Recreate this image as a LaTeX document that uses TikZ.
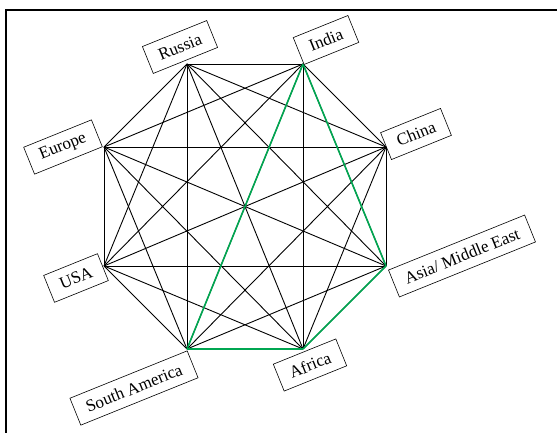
\documentclass[tikz,border=0pt]{standalone}
\usepackage{fontspec}
\setmainfont{Liberation Serif}
\usepackage{tikz}
\definecolor{route}{HTML}{00A651}

\begin{document}
\begin{tikzpicture}[
  x=1pt, y=-1pt,
  font=\fontsize{17}{20}\selectfont,
  cbox/.style={draw, line width=0.6pt, rotate=22, inner xsep=12pt, inner ysep=2pt, minimum height=29pt},
  link/.style={line width=0.9pt, black},
  greenlink/.style={line width=1.6pt, color=route}
]
  \useasboundingbox (0,0) rectangle (557,433);

  % frame (top and left only)
  \draw[line width=1.6pt] (6,433) -- (6,10) -- (557,10);

  % octagon corners
  \coordinate (rus) at (187,64);
  \coordinate (ind) at (303,64);
  \coordinate (chn) at (386,147);
  \coordinate (asi) at (386,266);
  \coordinate (afr) at (303,349);
  \coordinate (sam) at (187,349);
  \coordinate (usa) at (104,266);
  \coordinate (eur) at (104,147);

  % every pair connected
  \foreach \a/\rest in {rus/{ind,chn,asi,afr,sam,usa,eur},
                        ind/{chn,asi,afr,sam,usa,eur},
                        chn/{asi,afr,sam,usa,eur},
                        asi/{afr,sam,usa,eur},
                        afr/{sam,usa,eur},
                        sam/{usa,eur},
                        usa/{eur}}
    \foreach \b in \rest
      \draw[link] (\a) -- (\b);

  % highlighted route
  \draw[greenlink] (ind) -- (asi);
  \draw[greenlink] (asi) -- (afr);
  \draw[greenlink] (afr) -- (sam);
  \draw[greenlink] (sam) -- (ind);

  % labels
  \node[cbox] (lrus) at (180,47) {Russia};
  \node[cbox] (lind) at (326,40) {India};
  \node[cbox] (lchn) at (416,134) {China};
  \node[cbox] (lasi) at (462,256) {Asia/ Middle East};
  \node[cbox] (lafr) at (310,365) {Africa};
  \node[cbox] (lsam) at (134,388) {South America};
  \node[cbox] (lusa) at (76,278) {USA};
  \node[cbox] (leur) at (63,147) {Europe};

\end{tikzpicture}
\end{document}
